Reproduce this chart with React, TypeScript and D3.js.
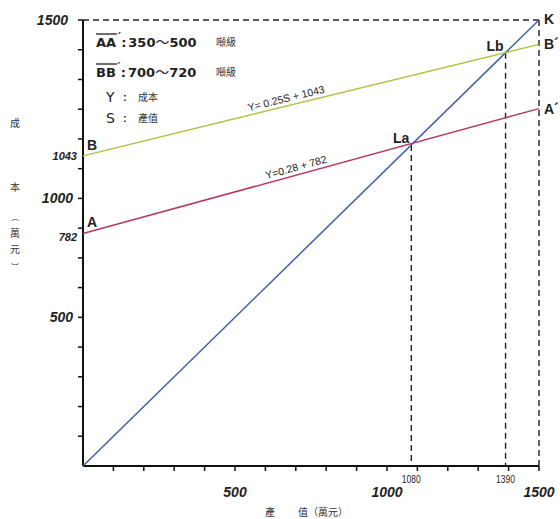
import React from "react";
import * as d3 from "d3";

// ---- data ----
const domainMax = 1500;
const lineIds = ["A", "B"];
const lineEndIds = ["A´", "B´"];
const slopes = [0.28, 0.25];
const intercepts = [782, 1043];
const equationTexts = ["Y=0.28 + 782", "Y= 0.25S + 1043"];
const equationAtS = [707, 674];
const breakEvenS = [1080, 1390];
const breakEvenNames = ["La", "Lb"];
const xTickLabelValues = [500, 1000, 1500];
const xTickLabels = ["500", "1000", "1500"];
// the printed "1000" sits on the 900 tick in the original figure
const yTickLabelValues = [500, 900, 1500];
const yTickLabels = ["500", "1000", "1500"];
const legendFrom = ["350", "700"];
const legendTo = ["500", "720"];
const legendPairs = ["AA", "BB"];
const legendUnit = "噸級";
const legendVars = ["Y", "S"];
const legendVarNames = ["成本", "產值"];
const xTitle = ["產", "值（萬元）"];
const yTitleChars = ["成", "本", "︵", "萬", "元", "︶"];

const lineColors = ["#b8385f", "#b3c145"];
const diagColor = "#3f5fa6";

export default function App() {
  const W = 560, H = 519;
  const x = d3.scaleLinear().domain([0, domainMax]).range([83, 539]);
  const y = d3.scaleLinear().domain([0, domainMax]).range([466, 20]);
  const ticks = x.ticks(15).filter((t) => t > 0);
  const line = d3.line<[number, number]>().x((d) => x(d[0])).y((d) => y(d[1]));
  const numFont = "'Liberation Sans', Arial, sans-serif";
  const cjk = "'Noto Sans CJK TC', 'Noto Sans CJK SC', sans-serif";
  const dash = "6,4";
  const titleYs = [123, 187, 216, 233, 249, 266];

  return (
    <svg width={W} height={H} style={{ position: "absolute", left: 0, top: 0, background: "#fff" }}>
      <rect x={0} y={0} width={W} height={H} fill="#fff" />
      {/* dashed frame */}
      <line x1={x(0)} y1={y(domainMax)} x2={x(domainMax)} y2={y(domainMax)} stroke="#222" strokeWidth={1.4} strokeDasharray={dash} />
      <line x1={x(domainMax)} y1={y(domainMax)} x2={x(domainMax)} y2={y(0)} stroke="#222" strokeWidth={1.4} strokeDasharray={dash} />
      {breakEvenS.map((s, i) => (
        <line key={"bd" + i} x1={x(s)} y1={y(s)} x2={x(s)} y2={y(0)} stroke="#222" strokeWidth={1.4} strokeDasharray={dash} />
      ))}
      {/* axes */}
      <line x1={x(0)} y1={y(0)} x2={x(domainMax)} y2={y(0)} stroke="#111" strokeWidth={2} />
      <line x1={x(0)} y1={y(0)} x2={x(0)} y2={y(domainMax)} stroke="#111" strokeWidth={2} />
      {ticks.map((t) => (
        <g key={"t" + t}>
          <line x1={x(t)} y1={y(0)} x2={x(t)} y2={y(0) + 5} stroke="#111" strokeWidth={1.5} />
          <line x1={x(0)} y1={y(t)} x2={x(0) - 5} y2={y(t)} stroke="#111" strokeWidth={1.5} />
        </g>
      ))}
      {/* lines */}
      <path d={line([[0, 0], [domainMax, domainMax]]) || ""} stroke={diagColor} strokeWidth={1.5} fill="none" />
      {slopes.map((a, i) => (
        <path key={"l" + i} d={line([[0, intercepts[i]], [domainMax, intercepts[i] + a * domainMax]]) || ""} stroke={lineColors[i]} strokeWidth={1.5} fill="none" />
      ))}
      {/* equation labels */}
      {slopes.map((a, i) => {
        const s = equationAtS[i];
        const px = x(s), py = y(a * s + intercepts[i]);
        const ang = (Math.atan2(y(intercepts[i] + a * domainMax) - y(intercepts[i]), x(domainMax) - x(0)) * 180) / Math.PI;
        return (
          <text key={"eq" + i} transform={`translate(${px},${py}) rotate(${ang})`} y={-4} textAnchor="middle" fontFamily={numFont} fontSize={10.5} fill="#222">
            {equationTexts[i]}
          </text>
        );
      })}
      {/* point labels */}
      {lineIds.map((id, i) => (
        <text key={"id" + i} x={x(0) + 4} y={y(intercepts[i]) - 6} fontFamily={numFont} fontWeight="bold" fontSize={14} fill="#222">{id}</text>
      ))}
      {lineEndIds.map((id, i) => (
        <text key={"ide" + i} x={x(domainMax) + 5} y={y(intercepts[i] + slopes[i] * domainMax) + 5} fontFamily={numFont} fontWeight="bold" fontSize={14} fill="#222">{id}</text>
      ))}
      <text x={x(domainMax) + 5} y={y(domainMax) + 4} fontFamily={numFont} fontWeight="bold" fontSize={14} fill="#222">K</text>
      {breakEvenS.map((s, i) => (
        <text key={"bn" + i} x={x(s) - 2} y={y(s) - 2} textAnchor="end" fontFamily={numFont} fontWeight="bold" fontSize={14} fill="#222">{breakEvenNames[i]}</text>
      ))}
      {/* x tick labels */}
      {xTickLabelValues.map((v, i) => (
        <text key={"xl" + i} x={x(v)} y={497} textAnchor="middle" fontFamily={numFont} fontWeight="bold" fontStyle="italic" fontSize={14} fill="#222">{xTickLabels[i]}</text>
      ))}
      {breakEvenS.map((s, i) => (
        <text key={"bx" + i} x={x(s)} y={483} textAnchor="middle" fontFamily={numFont} fontSize={10} fill="#222" transform={`translate(${x(s)},0) scale(0.85,1) translate(${-x(s)},0)`}>{String(s)}</text>
      ))}
      {/* y tick labels */}
      {yTickLabelValues.map((v, i) => (
        <text key={"yl" + i} x={v === domainMax ? 68 : 73} y={y(v) + 5} textAnchor="end" fontFamily={numFont} fontWeight="bold" fontStyle="italic" fontSize={14} fill="#222">{yTickLabels[i]}</text>
      ))}
      {intercepts.map((v, i) => (
        <text key={"yi" + i} x={77} y={y(v) + (i === 0 ? 8 : 4)} textAnchor="end" fontFamily={numFont} fontWeight="bold" fontStyle="italic" fontSize={11} fill="#222">{String(v)}</text>
      ))}
      {/* axis titles */}
      <text x={270} y={516} textAnchor="middle" fontFamily={cjk} fontSize={10} fill="#333">{xTitle[0]}</text>
      <text x={298} y={516} fontFamily={cjk} fontSize={10} fill="#333">{xTitle[1]}</text>
      {yTitleChars.map((c, i) => (
        <text key={"yt" + i} x={15} y={titleYs[i] + 4} textAnchor="middle" fontFamily={cjk} fontSize={i >= 2 && i !== 3 && i !== 4 ? 8 : 10} fill="#333">{c}</text>
      ))}
      {/* legend */}
      {legendPairs.map((p, i) => {
        const yy = 47 + i * 30;
        return (
          <g key={"lg" + i}>
            <text x={96} y={yy} fontFamily="'DejaVu Sans', sans-serif" fontWeight="bold" fontSize={13} fill="#222">
              {p}
              <tspan fontSize={10} dy={-6}>´</tspan>
              <tspan dy={6}>:</tspan>
              <tspan dx={2}>{legendFrom[i]}</tspan>
              <tspan fontFamily={cjk} fontWeight="normal" fontSize={14}>～</tspan>
              <tspan>{legendTo[i]}</tspan>
            </text>
            <line x1={96} x2={117} y1={yy - 13} y2={yy - 13} stroke="#222" strokeWidth={1.3} />
            <text x={216} y={yy - 1} fontFamily={cjk} fontSize={10} fill="#333">{legendUnit}</text>
          </g>
        );
      })}
      {legendVars.map((v, i) => {
        const yy = 102 + i * 21;
        return (
          <g key={"lv" + i}>
            <text x={106} y={yy} fontFamily="'DejaVu Sans', sans-serif" fontSize={14} fill="#222">{v}</text>
            <text x={123} y={yy - 1} fontFamily={numFont} fontWeight="bold" fontSize={11} fill="#222">:</text>
            <text x={138} y={yy - 1} fontFamily={cjk} fontSize={10} fill="#333">{legendVarNames[i]}</text>
          </g>
        );
      })}
    </svg>
  );
}
